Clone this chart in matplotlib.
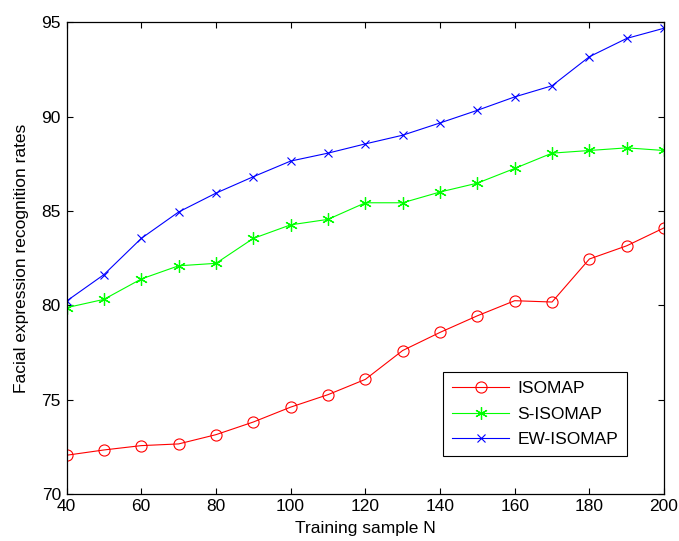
import matplotlib
matplotlib.use("Agg")
import matplotlib.pyplot as plt

plt.rcParams['font.family'] = ['Liberation Sans', 'DejaVu Sans']

# training sample sizes
n_samples = [40, 50, 60, 70, 80, 90, 100, 110, 120, 130, 140, 150, 160, 170, 180, 190, 200]

isomap = [72.05, 72.33, 72.56, 72.65, 73.14, 73.81, 74.6, 75.26, 76.07, 77.6,
          78.56, 79.44, 80.24, 80.17, 82.45, 83.15, 84.1]
s_isomap = [79.87, 80.31, 81.39, 82.09, 82.22, 83.54, 84.26, 84.55, 85.43, 85.43,
            86.0, 86.47, 87.25, 88.06, 88.2, 88.34, 88.2]
ew_isomap = [80.22, 81.62, 83.54, 84.94, 85.94, 86.81, 87.64, 88.06, 88.55, 89.01,
             89.66, 90.33, 91.04, 91.63, 93.17, 94.14, 94.68]

x_ticks = [40, 60, 80, 100, 120, 140, 160, 180, 200]
y_ticks = [70, 75, 80, 85, 90, 95]

fig = plt.figure(figsize=(6.79, 5.41), dpi=100)
ax = fig.add_axes([0.098, 0.087, 0.88, 0.872])

ax.plot(n_samples, isomap, color='#ff0000', lw=0.8, marker='o', ms=8,
        mfc='none', mec='#ff0000', mew=0.8, label='ISOMAP')
ax.plot(n_samples, s_isomap, color='#00ff00', lw=0.8, marker=(6, 2, 0), ms=9,
        mec='#00ff00', mew=0.9, label='S-ISOMAP')
ax.plot(n_samples, ew_isomap, color='#0000ff', lw=0.8, marker='x', ms=5.5,
        mec='#0000ff', mew=0.8, label='EW-ISOMAP')

ax.set_xlim(40, 200)
ax.set_ylim(70, 95)
ax.set_xticks(x_ticks)
ax.set_yticks(y_ticks)
ax.tick_params(direction='in', top=True, right=True, length=4, width=0.8,
               labelsize=12.5, pad=4)
for sp in ax.spines.values():
    sp.set_linewidth(0.9)

ax.set_xlabel('Training sample N', fontsize=12.5, labelpad=5)
ax.set_ylabel('Facial expression recognition rates', fontsize=12.5, labelpad=9)

leg = ax.legend(loc='lower right', bbox_to_anchor=(0.952, 0.062), fontsize=12.5,
                fancybox=False, framealpha=1, edgecolor='black',
                handlelength=3.3, borderpad=0.5, labelspacing=0.6, handletextpad=0.45)
leg.get_frame().set_linewidth(0.8)

fig.savefig('out.png', dpi=100)
